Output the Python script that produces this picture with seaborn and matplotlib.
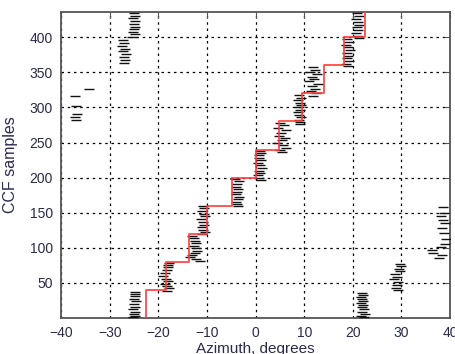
import numpy as np
import pandas as pd
import matplotlib
matplotlib.use("Agg")
import matplotlib.pyplot as plt
import seaborn as sns

# red staircase: one azimuth per 40-sample block
step_az = [-22.5, -18.4, -13.7, -9.9, -4.8, 0.0, 4.8, 9.6, 14.0, 18.1, 22.6]
block_len = 40

# black dashes, grouped by cluster (azimuth, sample)
c0_x = [-24.8, -24.9, -24.7, -25.1, -24.6, -25.0, -24.8, -25.3, -24.9, -25.1, -24.7, -25.2]
c0_y = [37, 34, 31, 27, 24, 20, 16, 12, 8, 5, 3, 1]
a0_x = [21.8, 22.0, 21.7, 21.9, 22.1, 21.6, 22.0, 21.8, 22.2, 21.9, 22.5, 21.7, 22.3]
a0_y = [36, 33, 30, 27, 24, 21, 18, 15, 12, 9, 6, 3, 1]
c1_x = [-17.9, -18.0, -18.1, -18.2, -18.6, -19.0, -18.4, -18.0, -18.7, -18.2, -17.8, -18.3]
c1_y = [78, 75, 72, 68, 64, 60, 56, 52, 48, 45, 42, 39]
a1_x = [29.6, 29.9, 29.4, 29.8, 28.7, 29.1, 28.5, 29.2, 29.0, 28.8, 29.3]
a1_y = [77, 74, 70, 67, 63, 59, 55, 51, 47, 43, 40]
c2_x = [-13.0, -12.7, -12.4, -12.2, -12.6, -12.3, -12.0, -12.5, -13.1, -13.4, -12.2, -11.5]
c2_y = [117, 114, 110, 107, 103, 100, 96, 93, 90, 87, 84, 81]
a2_x = [38.2, 36.3, 36.5, 38.3, 37.8, 38.5, 38.8, 38.2, 38.6, 39.0, 38.4, 38.7, 39.2, 38.9]
a2_y = [101, 97, 93, 89, 85, 158, 150, 145, 140, 135, 128, 121, 113, 106]
c3_x = [-10.8, -10.6, -11.0, -10.7, -10.5, -11.2, -10.9, -10.6, -11.1, -10.8, -10.4, -11.0]
c3_y = [159, 156, 152, 148, 145, 141, 137, 133, 129, 126, 122, 119]
c4_x = [-4.2, -3.5, -3.8, -4.0, -3.6, -3.9, -4.1, -3.5, -3.7, -4.0, -3.8, -3.6]
c4_y = [198, 195, 191, 187, 184, 180, 176, 172, 169, 165, 162, 159]
c5_x = [0.9, 1.2, 0.6, 0.8, 1.1, 0.5, 0.9, 1.3, 0.7, 1.0, 0.4, 0.8, 1.1]
c5_y = [238, 235, 232, 228, 225, 221, 218, 214, 210, 207, 203, 200, 197]
c6_x = [5.0, 5.8, 4.6, 6.2, 5.3, 4.9, 6.0, 5.5, 4.5, 5.7, 6.3, 5.1, 5.4]
c6_y = [278, 275, 271, 268, 264, 260, 257, 253, 249, 246, 242, 239, 236]
c7_x = [9.0, 9.3, 8.8, 9.1, 9.4, 8.9, 9.2, 8.7, 9.0, 9.3, 8.9, 9.1, 9.2]
c7_y = [318, 314, 311, 307, 303, 300, 296, 293, 289, 286, 282, 279, 276]
c8_x = [11.8, 12.3, 11.2, 12.6, 11.5, 12.0, 11.0, 12.8, 11.6, 12.2, 11.4, 12.5, 11.9]
c8_y = [357, 354, 351, 347, 344, 340, 337, 333, 330, 326, 323, 320, 317]
c9_x = [18.8, 19.2, 18.6, 19.0, 19.4, 18.7, 19.1, 18.9, 19.3, 18.5, 19.0]
c9_y = [397, 393, 389, 386, 382, 378, 374, 370, 366, 362, 359]
c10_x = [20.9, 21.2, 20.7, 21.0, 21.3, 20.8, 21.1, 20.6, 21.0, 21.2]
c10_y = [434, 430, 426, 422, 418, 414, 410, 406, 402, 399]
l1_x = [-25.0, -24.8, -25.2, -24.9, -25.1, -24.7, -25.0, -25.3, -24.9, -25.5]
l1_y = [434, 431, 427, 423, 419, 415, 412, 408, 405, 400]
l2_x = [-27.3, -27.0, -27.4, -26.8, -27.2, -26.6, -27.1, -26.9, -27.0]
l2_y = [396, 392, 388, 384, 380, 376, 372, 367, 363]
l3_x = [-34.2, -37.2, -37.0, -36.8, -37.1, -36.9]
l3_y = [326, 316, 302, 291, 287, 282]

xs = (c0_x + a0_x + c1_x + a1_x + c2_x + a2_x + c3_x + c4_x + c5_x + c6_x
      + c7_x + c8_x + c9_x + c10_x + l1_x + l2_x + l3_x)
ys = (c0_y + a0_y + c1_y + a1_y + c2_y + a2_y + c3_y + c4_y + c5_y + c6_y
      + c7_y + c8_y + c9_y + c10_y + l1_y + l2_y + l3_y)
pts = pd.DataFrame({"az": xs, "sample": ys})

# staircase vertices
stair_x, stair_y = [], []
for k, a in enumerate(step_az):
    stair_x += [a, a]
    stair_y += [k * block_len, (k + 1) * block_len]
stair = pd.DataFrame({"az": stair_x, "sample": stair_y})

sns.set_style("white")
plt.rcParams["font.family"] = ["Liberation Sans", "DejaVu Sans"]

fig = plt.figure(figsize=(4.56, 3.54), dpi=100)
ax = fig.add_axes([0.134, 0.102, 0.853, 0.864])

sns.scatterplot(data=pts, x="az", y="sample", marker="_", color="#111111",
                s=45, linewidth=1.0, ax=ax, zorder=3)
sns.lineplot(data=stair, x="az", y="sample", sort=False, estimator=None,
             color="#ff3b3b", linewidth=1.4, alpha=0.85, ax=ax, zorder=4)

ax.set_xlim(-40, 40)
ax.set_ylim(0, 436)
ax.set_xticks(np.arange(-40, 41, 10))
ax.set_yticks(np.arange(50, 401, 50))
ax.grid(True, color="black", linestyle=(0, (2, 3)), linewidth=0.9)
ax.set_axisbelow(True)

txt = "#2a2a4a"
ax.tick_params(direction="in", length=4, top=True, right=True, labelsize=10,
               colors="#555555", labelcolor=txt, pad=6)
for s in ax.spines.values():
    s.set_color("#555555")
    s.set_linewidth(1.3)

ax.set_xlabel("Azimuth, degrees", fontsize=11, color=txt, labelpad=1)
ax.set_ylabel("CCF samples", fontsize=11.5, color=txt, labelpad=8)

fig.savefig("out.png", dpi=100)
